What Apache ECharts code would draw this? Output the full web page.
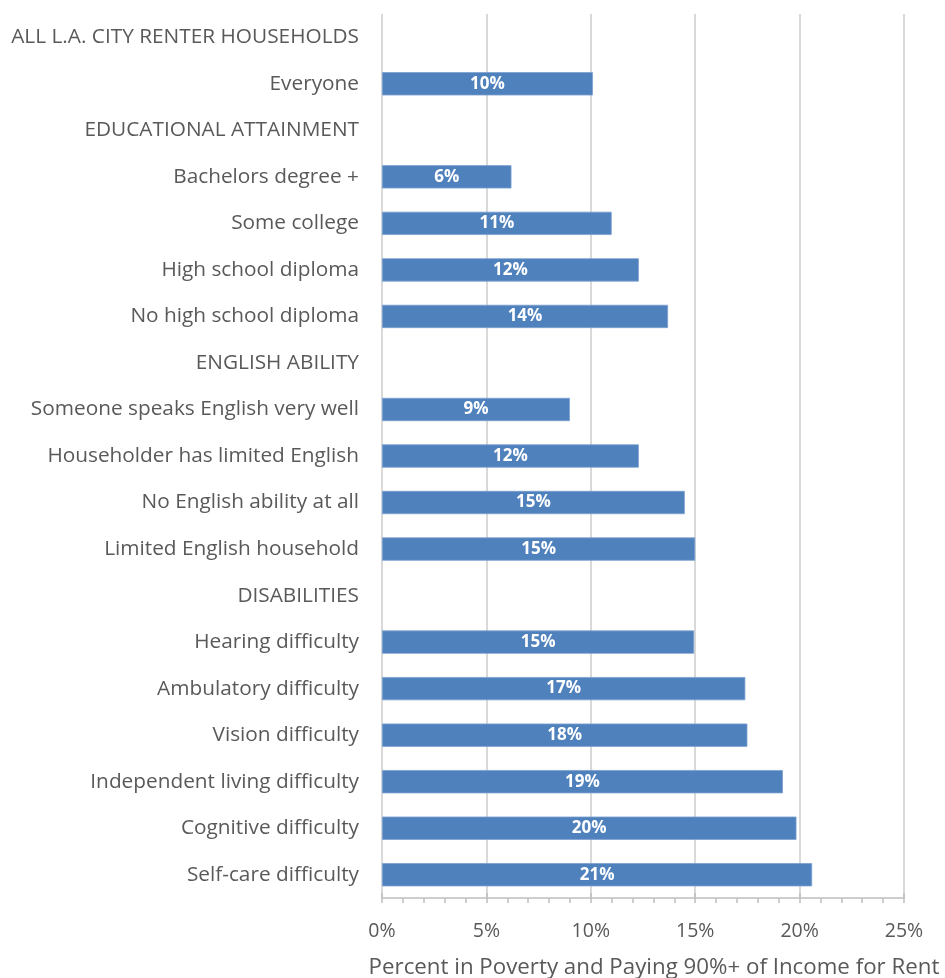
<!DOCTYPE html>
<html>
<head>
<meta charset="utf-8">
<script src="https://cdn.jsdelivr.net/npm/echarts@6/dist/echarts.min.js"></script>
<style>
  html, body { margin: 0; padding: 0; background: #fff; }
  #chart { width: 945px; height: 978px; }
</style>
</head>
<body>
<div id="chart"></div>
<script>
// Row labels, top to bottom (section headers carry no value)
const categories = [
  'ALL L.A. CITY RENTER HOUSEHOLDS',
  'Everyone',
  'EDUCATIONAL ATTAINMENT',
  'Bachelors degree +',
  'Some college',
  'High school diploma',
  'No high school diploma',
  'ENGLISH ABILITY',
  'Someone speaks English very well',
  'Householder has limited English',
  'No English ability at all',
  'Limited English household',
  'DISABILITIES',
  'Hearing difficulty',
  'Ambulatory difficulty',
  'Vision difficulty',
  'Independent living difficulty',
  'Cognitive difficulty',
  'Self-care difficulty'
];

// Percent in poverty and paying 90%+ of income for rent
const values = [
  null, 10.1,
  null, 6.2, 11.0, 12.3, 13.7,
  null, 9.0, 12.3, 14.5, 15.0,
  null, 14.95, 17.4, 17.5, 19.2, 19.85, 20.6
];

const xTicks = [0, 5, 10, 15, 20, 25];
const axisTitle = 'Percent in Poverty and Paying 90%+ of Income for Rent';

const FONT = '"Open Sans"';
const grid = { left: 382, right: 41, top: 14, bottom: 80, outerBoundsMode: 'none', containLabel: false };

const chart = echarts.init(document.getElementById('chart'));
chart.setOption({
  animation: false,
  backgroundColor: '#ffffff',
  grid: grid,
  xAxis: [
    {
      type: 'value',
      min: xTicks[0],
      max: xTicks[xTicks.length - 1],
      interval: 5,
      name: axisTitle,
      nameLocation: 'middle',
      nameGap: 59,
      nameTextStyle: { fontFamily: FONT, fontSize: 22.3, color: '#595959', padding: [0, 0, 0, 22] },
      axisLine: { show: true, lineStyle: { color: '#bfbfbf', width: 1.5 } },
      axisTick: { show: true, length: 5, lineStyle: { color: '#bfbfbf', width: 1.5 } },
      minorTick: { show: true, splitNumber: 5, length: 5, lineStyle: { color: '#bfbfbf', width: 1.5 } },
      axisLabel: {
        margin: 23,
        fontFamily: FONT, fontSize: 19.5, color: '#595959',
        formatter: v => v + '%'
      },
      splitLine: { show: true, lineStyle: { color: '#d9d9d9', width: 2 } }
    },
    {
      // mirror of the bottom axis so the tick marks cross the axis line
      type: 'value',
      position: 'bottom',
      min: xTicks[0],
      max: xTicks[xTicks.length - 1],
      interval: 5,
      axisLine: { show: false },
      axisTick: { show: true, inside: true, length: 5, lineStyle: { color: '#bfbfbf', width: 1.5 } },
      minorTick: { show: true, splitNumber: 5, length: -5, lineStyle: { color: '#bfbfbf', width: 1.5 } },
      axisLabel: { show: false },
      splitLine: { show: false }
    }
  ],
  yAxis: {
    type: 'category',
    inverse: true,
    data: categories,
    axisLine: { show: false },
    axisTick: { show: false },
    axisLabel: {
      margin: 23,
      fontFamily: FONT, fontSize: 20.8, color: '#595959'
    }
  },
  series: [{
    type: 'bar',
    xAxisIndex: 0,
    data: values,
    barCategoryGap: '50%',
    itemStyle: { color: '#4f81bd', borderColor: '#7b9fcf', borderWidth: 0.8 },
    label: {
      show: true,
      position: 'inside',
      color: '#ffffff',
      fontFamily: FONT,
      fontWeight: 'bold',
      fontSize: 17,
      formatter: p => p.value == null ? '' : Math.round(p.value) + '%'
    }
  }]
});
</script>
</body>
</html>
